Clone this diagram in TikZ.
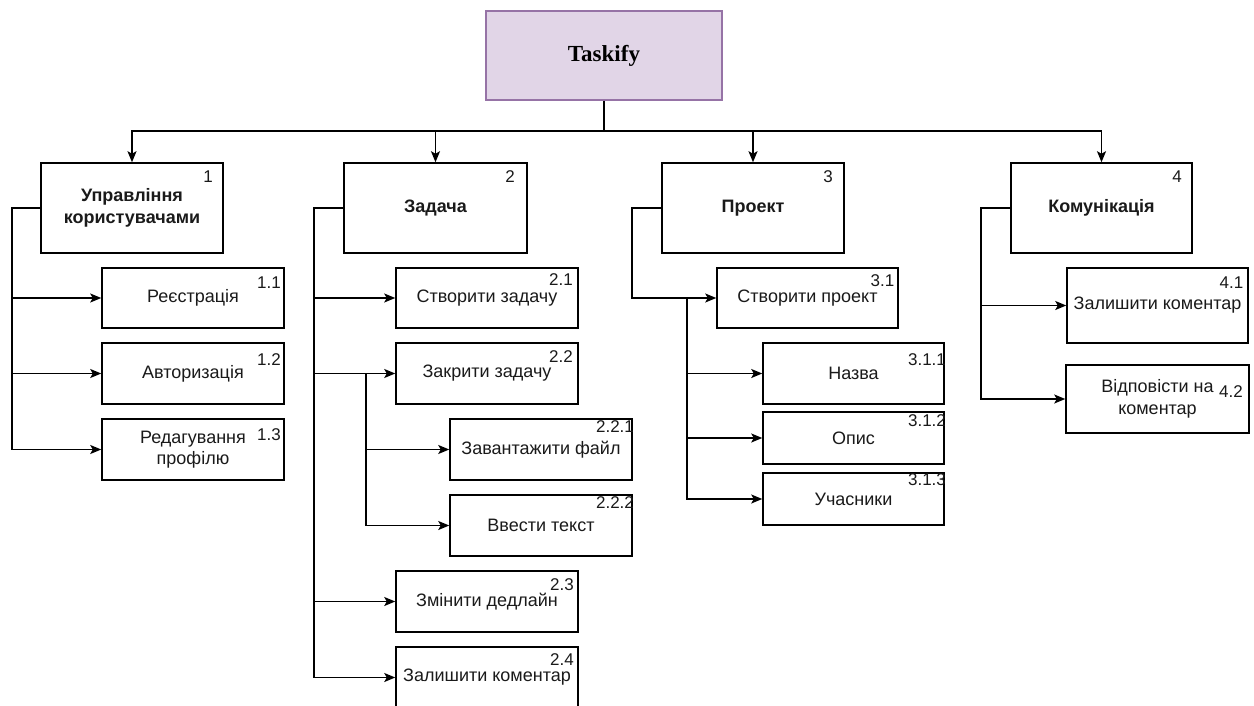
\documentclass[tikz,border=0pt]{standalone}
\usepackage{fontspec}
\setmainfont{Liberation Sans}
\newfontfamily\titlefont{Liberation Serif}
\usetikzlibrary{arrows.meta,calc}
\definecolor{rootfill}{HTML}{E1D5E7}
\definecolor{rootline}{HTML}{9673A6}
\definecolor{ink}{HTML}{1A1A1A}
\tikzset{
  box/.style={draw=black, line width=1.5pt, fill=white, minimum width=182pt,
    inner sep=0pt, align=center, text=ink, font=\fontsize{18}{21.6}\selectfont},
  headbox/.style={box, minimum height=90pt, font=\bfseries\fontsize{18}{21.6}\selectfont},
  num/.style={inner sep=0pt, text=ink, font=\fontsize{17}{20}\selectfont},
  conn/.style={line width=1.5pt, draw=black},
  arr/.style={conn, -{Stealth[length=11pt,width=9pt,inset=2.5pt]}},
}
\begin{document}
\begin{tikzpicture}[x=1pt,y=-1pt]
\useasboundingbox (0,0) rectangle (1254,706);
\fill[white] (0,0) rectangle (1254,706);

% root
\node[draw=rootline, fill=rootfill, line width=1.5pt, minimum width=236pt, minimum height=89pt,
      inner sep=0pt, font=\titlefont\bfseries\fontsize{23}{27}\selectfont] (root) at (604,55.5) {Taskify};

% top-level branches
\node[headbox] (n1) at (132,208) {Управління\\користувачами};
\node[headbox, minimum width=183pt] (n2) at (435.5,208) {Задача};
\node[headbox] (n3) at (753,208) {Проект};
\node[headbox, minimum width=181pt] (n4) at (1101.5,208) {Комунікація};
\node[num] (n1no) at (208,177) {1};
\node[num] (n2no) at (510,177) {2};
\node[num] (n3no) at (828,177) {3};
\node[num] (n4no) at (1177,177) {4};

% branch 1
\node[box, minimum height=60pt] (s11) at (193,298) {Реєстрація};
\node[box, minimum height=61pt] (s12) at (193,373.5) {Авторизація};
\node[box, minimum height=61pt] (s13) at (193,449.5) {Редагування\\профілю};
\node[num] (s11no) at (269,283) {1.1};
\node[num] (s12no) at (269,360) {1.2};
\node[num] (s13no) at (269,435) {1.3};

% branch 2
\node[box, minimum height=60pt] (s21) at (487,298) {Створити задачу};
\node[box, minimum height=61pt] (s22) at (487,373.5) {Закрити задачу};
\node[box, minimum height=61pt] (s221) at (541,449.5) {Завантажити файл};
\node[box, minimum height=61pt] (s222) at (541,525.5) {Ввести текст};
\node[box, minimum height=61pt] (s23) at (487,601.5) {Змінити дедлайн};
\node[box, minimum height=61pt] (s24) at (487,677.5) {Залишити коментар};
\node[num] (s21no) at (561,280) {2.1};
\node[num] (s22no) at (561,356.5) {2.2};
\node[num] (s221no) at (615,427) {2.2.1};
\node[num] (s222no) at (615,502.5) {2.2.2};
\node[num] (s23no) at (562,585) {2.3};
\node[num] (s24no) at (562,660) {2.4};

% branch 3
\node[box, minimum height=60pt, minimum width=181pt] (s31) at (807.5,298) {Створити проект};
\node[box, minimum height=61pt, minimum width=181pt] (s311) at (853.5,373.5) {Назва};
\node[box, minimum height=52pt, minimum width=181pt] (s312) at (853.5,438) {Опис};
\node[box, minimum height=52pt, minimum width=181pt] (s313) at (853.5,499) {Учасники};
\node[num] (s31no) at (882.5,281) {3.1};
\node[num] (s311no) at (927,360) {3.1.1};
\node[num] (s312no) at (927,421) {3.1.2};
\node[num] (s313no) at (927,479.5) {3.1.3};

% branch 4
\node[box, minimum height=75pt, minimum width=181pt] (s41) at (1157.5,305.5) {Залишити коментар};
\node[box, minimum height=68pt, minimum width=183pt] (s42) at (1157.5,399) {Відповісти на\\коментар};
\node[num] (s41no) at (1231.5,282.5) {4.1};
\node[num] (s42no) at (1231,392) {4.2};

% root to branches
\coordinate (bus) at (604,131);
\draw[conn] (root.south) -- (bus);
\foreach \n in {n1,n2,n3,n4}
  \draw[arr] (bus) -| (\n.north);

% branch 1 connectors
\coordinate (c1) at (12,208);
\draw[arr] (n1.west) -- (c1) |- (s13.west);
\draw[arr] (c1 |- s11.west) -- (s11.west);
\draw[arr] (c1 |- s12.west) -- (s12.west);

% branch 2 connectors
\coordinate (c2) at (314,208);
\draw[arr] (n2.west) -- (c2) |- (s24.west);
\draw[arr] (c2 |- s21.west) -- (s21.west);
\draw[arr] (c2 |- s22.west) -- (s22.west);
\draw[arr] (c2 |- s23.west) -- (s23.west);
\coordinate (c22) at (366,373.5);
\draw[arr] (c22) |- (s222.west);
\draw[arr] (c22 |- s221.west) -- (s221.west);

% branch 3 connectors
\coordinate (c3) at (632,208);
\draw[arr] (n3.west) -- (c3) |- (s31.west);
\coordinate (c31) at (687,298);
\draw[arr] (c31) |- (s313.west);
\draw[arr] (c31 |- s311.west) -- (s311.west);
\draw[arr] (c31 |- s312.west) -- (s312.west);

% branch 4 connectors
\coordinate (c4) at (981,208);
\draw[arr] (n4.west) -- (c4) |- (s42.west);
\draw[arr] (c4 |- s41.west) -- (s41.west);
\end{tikzpicture}
\end{document}
